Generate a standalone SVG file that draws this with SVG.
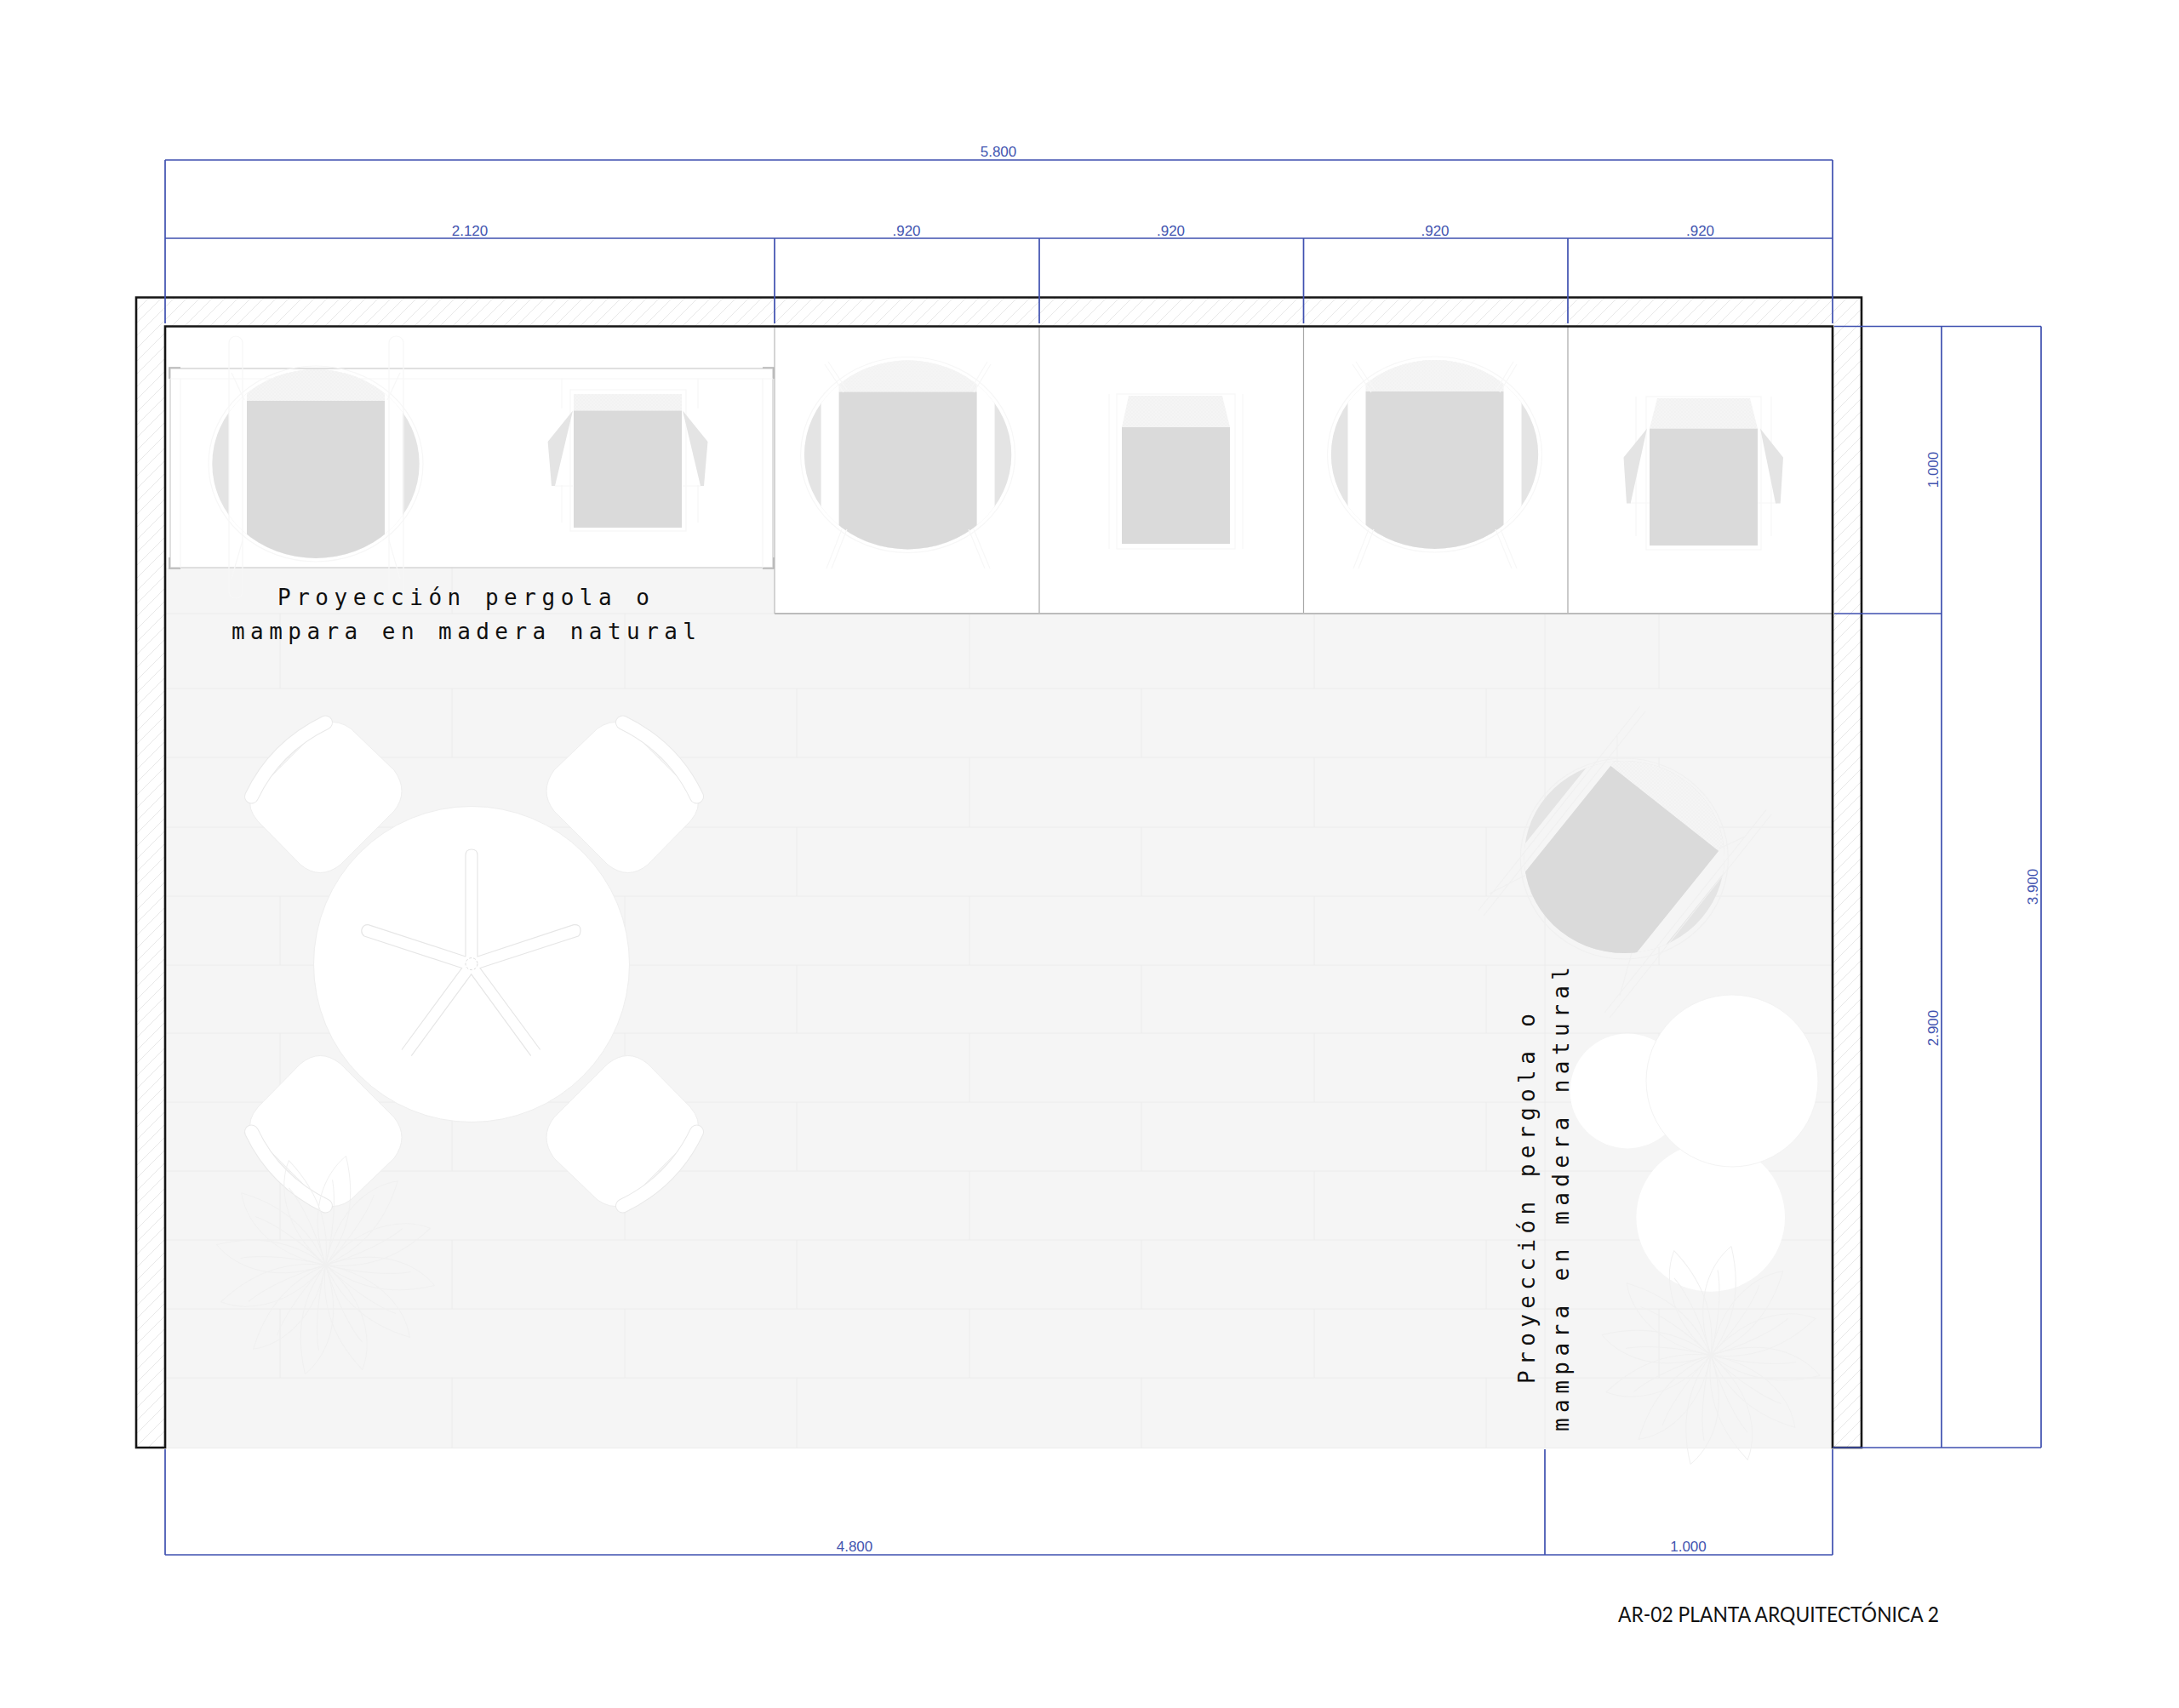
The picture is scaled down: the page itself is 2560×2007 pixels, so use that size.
<svg xmlns="http://www.w3.org/2000/svg" xmlns:xlink="http://www.w3.org/1999/xlink" width="2560" height="2007" viewBox="0 0 2560 2007">
<style>
.dim{stroke:#3f50b0;stroke-width:1.7;fill:none}
.dt{font-family:"Liberation Sans",Arial,sans-serif;font-size:17px;fill:#4355b0;text-anchor:middle}
.lb{font-family:"DejaVu Sans Mono","Liberation Mono",monospace;font-size:26px;fill:#111}
.joint{stroke:#ececec;stroke-width:1;fill:none}
.wall{stroke:#151515;stroke-width:2.6;fill:url(#hatch)}
.seat{fill:#dadada}
.side{fill:#e4e4e4}
.cap{fill:url(#mesh)}
.ghost{stroke:#f7f7f7;stroke-width:1.2;fill:none}
.ghostd{stroke:#f0f0f0;stroke-width:1.2;fill:none}
.edge{stroke:#eeeeee;stroke-width:1;fill:#fff}
.leaf{stroke:#f0f0f0;stroke-width:1;fill:none}
</style>
<defs>
<pattern id="hatch" width="15" height="15" patternUnits="userSpaceOnUse"><rect width="15" height="15" fill="#fff"/><path d="M-1 16L16 -1" stroke="#e8e8e8" stroke-width="1"/></pattern>
<pattern id="mesh" width="4" height="4" patternUnits="userSpaceOnUse"><rect width="4" height="4" fill="#f5f5f5"/><path d="M0 4L4 0M0 0L4 4" stroke="#f0f0f0" stroke-width=".7"/></pattern>
<path id="evenJ" d="M0 721V809M0 890V972M0 1053V1134M0 1214V1295M0 1376V1457M0 1538V1619"/>
<path id="oddJ" d="M0 809V890M0 972V1053M0 1134V1214M0 1295V1376M0 1457V1538M0 1619V1701"/>
<clipPath id="rc"><ellipse cx="0" cy="0" rx="121.7" ry="111"/></clipPath>
<g id="roundChair">
<ellipse class="side" rx="121.7" ry="111"/>
<g clip-path="url(#rc)">
<rect x="-102" y="-115" width="204" height="230" fill="#fff"/>
<rect class="cap" x="-81" y="-115" width="162" height="41"/>
<rect class="seat" x="-81" y="-74" width="162" height="190"/>
</g>
<ellipse class="ghost" rx="126" ry="115"/>
</g>
<g id="lounge">
<path class="edge" d="M412 856L463 905Q481 930 463 953L400 1016Q376 1035 353 1016L303 965Q290 950 295 936L382 849Q398 846 412 856Z"/>
<path d="M295.500 936Q323 878 382.500 849" fill="none" stroke="#e9e9e9" stroke-width="17" stroke-linecap="round"/>
<path d="M295.500 936Q323 878 382.500 849" fill="none" stroke="#fff" stroke-width="15" stroke-linecap="round"/>
</g>
<g id="plant">
<g id="leafset">
<path class="leaf" d="M0 0C22 -30 38 -70 24 -128C4 -112 -24 -70 0 0"/>
<path class="leaf" d="M0 0C10 -40 12 -80 8 -100"/>
</g>
<use href="#leafset" transform="rotate(30)"/>
<use href="#leafset" transform="rotate(60)"/>
<use href="#leafset" transform="rotate(90)"/>
<use href="#leafset" transform="rotate(120)"/>
<use href="#leafset" transform="rotate(150)"/>
<use href="#leafset" transform="rotate(180)"/>
<use href="#leafset" transform="rotate(210)"/>
<use href="#leafset" transform="rotate(240)"/>
<use href="#leafset" transform="rotate(270)"/>
<use href="#leafset" transform="rotate(300)"/>
<use href="#leafset" transform="rotate(330)"/>
</g>
<clipPath id="rotc"><ellipse cx="1908.300" cy="1007" rx="117.700" ry="113"/></clipPath>
</defs>
<rect width="2560" height="2007" fill="#fff"/>

<g id="floor">
<rect x="194" y="383" width="1959" height="1318.500" fill="#f5f5f5"/>
<path class="joint" d="M194 721H2153M194 809H2153M194 890H2153M194 972H2153M194 1053H2153M194 1134H2153M194 1214H2153M194 1295H2153M194 1376H2153M194 1457H2153M194 1538H2153M194 1619H2153M194 1701.500H2153M531 667V721M1815 721V1701"/>
<g class="joint">
<use href="#evenJ" x="329"/><use href="#evenJ" x="734"/><use href="#evenJ" x="1139"/><use href="#evenJ" x="1544"/><use href="#evenJ" x="1949"/>
<use href="#oddJ" x="531"/><use href="#oddJ" x="936"/><use href="#oddJ" x="1341"/><use href="#oddJ" x="1746"/>
</g>
</g>

<g id="upper-panels">
<rect x="194" y="383" width="716" height="284" fill="#fff"/>
<rect x="910" y="383" width="1243" height="338" fill="#fff"/>
<path d="M910 383V721" stroke="#c6c6c6" stroke-width="1.500" fill="none"/>
<path d="M1221 383V721M1531.500 383V721M1842 383V721" stroke="#a8a8a8" stroke-width="1.200" fill="none"/>
<path d="M910 721H2153" stroke="#bcbcbc" stroke-width="1.800" fill="none"/>
</g>

<g id="pergola-frame">
<rect x="200" y="433" width="708" height="234" fill="none" stroke="#cfcfcf" stroke-width="1.300"/>
<path d="M200 445H908M212 445V667M896 445V667" stroke="#f5f5f5" stroke-width="1" fill="none"/>
<path d="M212 432H199V445M896 432H909V445M212 668H199V655M896 668H909V655" stroke="#b4b4b4" stroke-width="1.600" fill="none"/>
</g>

<g id="chair-a">
<use href="#roundChair" x="371" y="545"/>
<rect class="ghost" x="269" y="395" width="16" height="308" rx="8"/>
<rect class="ghost" x="457" y="395" width="17" height="308" rx="8"/>
<path class="ghost" d="M272 438L287 470M470 438L455 470M285 635L272 680M457 635L470 680"/>
</g>

<g id="chair-b">
<rect class="ghost" x="670" y="458" width="136" height="166"/>
<path class="ghost" d="M660 445V480M820 445V480M660 570V614M820 570V614M652 571H673M802 571H823"/>
<rect class="cap" x="674" y="463" width="127" height="19.500"/>
<rect class="seat" x="674" y="482.500" width="127" height="137.500"/>
<path class="side" d="M673 482.500L652 571H648L643.600 519ZM802 482.500L823 571H827L831.500 519Z"/>
</g>

<g id="chair-c">
<use href="#roundChair" x="1066.600" y="534.500"/>
<path class="ghost" d="M969 428L991 461M973 425L995 458M1164 428L1144 461M1160 425L1140 458M989 622L971 668M995 622L977 668M1144 622L1163 668M1138 622L1157 668"/>
</g>

<g id="chair-d">
<rect class="ghost" x="1312" y="463" width="139" height="182"/>
<path class="ghost" d="M1303 463V645M1460 463V645"/>
<path class="cap" d="M1326 465H1436L1445 502H1318Z"/>
<rect class="seat" x="1318" y="502" width="127" height="137"/>
</g>

<g id="chair-e">
<use href="#roundChair" x="1685.500" y="534"/>
<path class="ghost" d="M1589 428L1611 461M1593 425L1615 458M1782 428L1762 461M1778 425L1758 458M1608 622L1590 668M1614 622L1596 668M1763 622L1782 668M1757 622L1776 668"/>
</g>

<g id="chair-f">
<rect class="ghost" x="1934" y="466" width="135" height="180"/>
<path class="ghost" d="M1922 466V630M2081 466V630M1915 591H1938M2065 591H2088"/>
<path class="cap" d="M1947 468H2056L2065 503.600H1938Z"/>
<rect class="seat" x="1938" y="503.600" width="127" height="137.400"/>
<path class="side" d="M1935 503.600L1915.700 591.500H1911L1907.500 537.600ZM2068 503.600L2086 591.500H2091.700L2095 537.600Z"/>
</g>

<g id="round-table">
<circle class="edge" cx="554" cy="1133" r="185.500"/>
<path d="M547 1124V1005Q547 998 554 998Q561 998 561 1005V1124L674 1086.600Q682 1086 682 1093Q682 1098 679.400 1100L564 1137.500L634.700 1233.500M623.700 1240.700L553.700 1144.800L483.300 1240.700M472 1233.500L542.600 1137.500L428 1100Q424 1097 425 1092Q427 1086 432.700 1086.600L547 1124" fill="none" stroke="#e6e6e6" stroke-width="1.200"/>
<ellipse cx="554" cy="1132.600" rx="7" ry="7" fill="none" stroke="#dcdcdc" stroke-width="1" stroke-dasharray="3 2"/>
</g>

<g id="lounge-1"><use href="#lounge"/></g>
<g id="lounge-2"><use href="#lounge" transform="translate(1114,0) scale(-1,1)"/></g>
<g id="lounge-3"><use href="#lounge" transform="translate(0,2266) scale(1,-1)"/></g>
<g id="lounge-4"><use href="#lounge" transform="translate(1114,2266) scale(-1,-1)"/></g>

<g id="chair-rotated">
<ellipse class="side" cx="1908.300" cy="1007" rx="117.700" ry="113"/>
<g clip-path="url(#rotc)">
<path class="cap" d="M1892.300 900L2019 1000L2081.700 922.200L1955 822.200Z"/>
<path d="M1911.100 876.700L1723 1110L1706.500 1097L1894.600 863.700Z" fill="#f5f5f5"/>
<path d="M2037.800 976.700L1849.700 1210L1866 1223L2054.300 989.700Z" fill="#f5f5f5"/>
<path class="seat" d="M1892.300 900L2019 1000L1830.900 1233.400L1704.200 1133.400Z"/>
</g>
<path class="ghostd" d="M1926.700 830L1736.700 1070M1933 836L1743 1076M2075 951.700L1885 1190M2081 957L1891 1196M1900 865V896M2050 983L2020 997M1793 1028L1750 1050M1903 1170L1917 1120"/>
<ellipse cx="1908.300" cy="1009" rx="122" ry="118" fill="none" stroke="#f0f0f0" stroke-width="1.200"/>
</g>

<g id="stool-small"><circle cx="1912" cy="1282" r="67.400" fill="#fff"/></g>
<g id="stool-lower"><ellipse cx="2009.700" cy="1430.500" rx="87.300" ry="87.300" fill="#fff"/></g>
<g id="stool-big"><circle cx="2035" cy="1270" r="101" fill="#fff" stroke="#f3f3f3" stroke-width="1"/></g>

<g id="plant-1"><use href="#plant" x="382.500" y="1486.500"/></g>
<g id="plant-2"><use href="#plant" x="2010" y="1592.500"/></g>

<g id="walls">
<path class="wall" d="M160 349.500H2187V1701H2153V383.500H194V1701H160Z"/>
</g>

<g id="dimensions">
<path class="dim" d="M194 188H2153M194 188V380M2153 188V380M194 280H2153M910 280V380M1221 280V380M1531.500 280V380M1842 280V380"/>
<path class="dim" d="M2155 383.500H2398M2281 383.500V1701M2398 383.500V1701M2155 721H2281M2153 1701H2398"/>
<path class="dim" d="M194 1827H2153M194 1703V1827M1815 1703V1827M2153 1703V1827"/>
</g>

<g id="dimension-labels">
<text class="dt" x="1173" y="184">5.800</text>
<text class="dt" x="552" y="276.500">2.120</text>
<text class="dt" x="1065" y="276.500">.920</text>
<text class="dt" x="1375.500" y="276.500">.920</text>
<text class="dt" x="1686" y="276.500">.920</text>
<text class="dt" x="1997.500" y="276.500">.920</text>
<text class="dt" transform="translate(2277,552) rotate(-90)">1.000</text>
<text class="dt" transform="translate(2277,1208) rotate(-90)">2.900</text>
<text class="dt" transform="translate(2394,1042) rotate(-90)">3.900</text>
<text class="dt" x="1004" y="1823">4.800</text>
<text class="dt" x="1983.500" y="1823">1.000</text>
</g>

<g id="notes">
<text class="lb" x="326" y="711" textLength="437" lengthAdjust="spacing">Proyección pergola o</text>
<text class="lb" x="272" y="751" textLength="546" lengthAdjust="spacing">mampara en madera natural</text>
<text class="lb" transform="translate(1802.700,1626) rotate(-90)" textLength="435" lengthAdjust="spacing">Proyección pergola o</text>
<text class="lb" transform="translate(1842.700,1682) rotate(-90)" textLength="546" lengthAdjust="spacing">mampara en madera natural</text>
</g>

<g id="title">
<text x="1901" y="1906" font-family="Lato,'Open Sans','Liberation Sans',sans-serif" font-size="25" fill="#111" textLength="377" lengthAdjust="spacingAndGlyphs">AR-02 PLANTA ARQUITECTÓNICA 2</text>
</g>
</svg>
